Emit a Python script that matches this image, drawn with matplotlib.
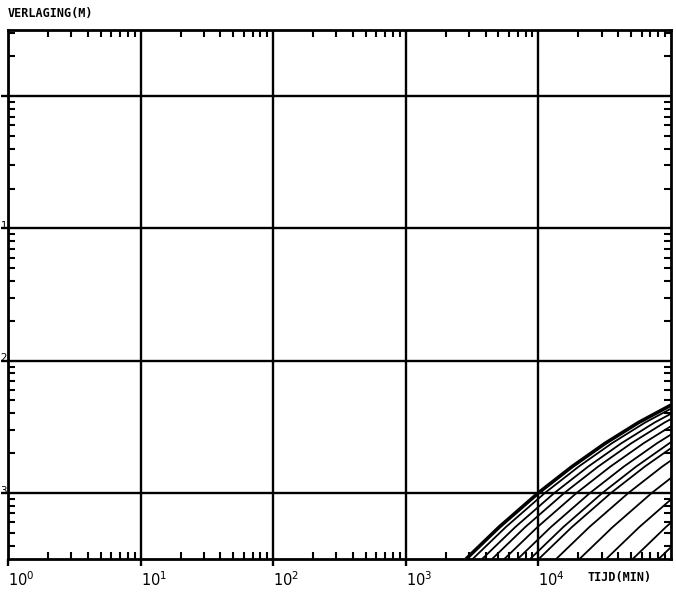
import matplotlib
matplotlib.use("Agg")
import matplotlib.pyplot as plt
import numpy as np
from matplotlib.ticker import LogLocator, NullFormatter

# vorm van de bovenste (omhullende) curve: tijd (min) en verlaging (m)
env_t = [2845, 5060, 10000, 17950, 31900, 56800, 100000]
env_s = [3.16e-4, 5.51e-4, 1.0e-3, 1.58e-3, 2.37e-3, 3.40e-3, 4.61e-3]

# begintijd (min) van elke curve op de onderrand; de eerste is de omhullende
start_times = [2845, 3190, 3760, 4470, 5530, 6980, 8650, 10050, 13600,
               20400, 32400, 51400, 80700]

x_ticks = [1, 10, 100, 1000, 10000]
x_labels = ["10$^{0}$", "10$^{1}$", "10$^{2}$", "10$^{3}$", "10$^{4}$"]
y_ticks = [1e-3, 1e-2, 1e-1, 1e0]
y_labels = ["10$^{-3}$", "10$^{-2}$", "10$^{-1}$", ""]

fig = plt.figure(figsize=(6.76, 5.96), dpi=100)
ax = fig.add_axes([8 / 676, 37 / 596, 663 / 676, 529 / 596])
ax.set_xscale("log")
ax.set_yscale("log")
ax.set_xlim(1, 1e5)
ax.set_ylim(10 ** -3.5, 10 ** 0.5)

# zelfde curvevorm, verschoven in de tijd
et = np.array(env_t, dtype=float)
for i, t0 in enumerate(start_times):
    lw = 2.6 if i == 0 else 1.3
    ax.plot(et * t0 / env_t[0], env_s, color="black", lw=lw,
            solid_capstyle="butt")

ax.grid(True, which="major", color="black", lw=1.7)
ax.set_axisbelow(False)
for sp in ax.spines.values():
    sp.set_linewidth(2)

ax.xaxis.set_minor_locator(LogLocator(base=10, subs=np.arange(2, 10), numticks=20))
ax.yaxis.set_minor_locator(LogLocator(base=10, subs=np.arange(2, 10), numticks=20))
ax.xaxis.set_minor_formatter(NullFormatter())
ax.yaxis.set_minor_formatter(NullFormatter())
ax.tick_params(which="major", direction="out", length=5, width=1.7,
               top=False, right=False, labelsize=10.5, pad=3)
ax.tick_params(which="minor", direction="in", length=5, width=1.5,
               top=True, right=True, bottom=True, left=True)

ax.set_xticks(x_ticks)
ax.set_xticklabels(x_labels, ha="left")
ax.set_yticks(y_ticks)
ax.set_yticklabels(y_labels)
ax.tick_params(axis="y", which="major", pad=-5)

fig.text(8 / 676, 1 - 14 / 596, "VERLAGING(M)", family="DejaVu Sans Mono",
         fontsize=8.5, fontweight="bold", va="center", ha="left")
fig.text(587 / 676, 1 - 577 / 596, "TIJD(MIN)", family="DejaVu Sans Mono",
         fontsize=8.5, fontweight="bold", va="center", ha="left")

fig.savefig("out.png", dpi=100)
